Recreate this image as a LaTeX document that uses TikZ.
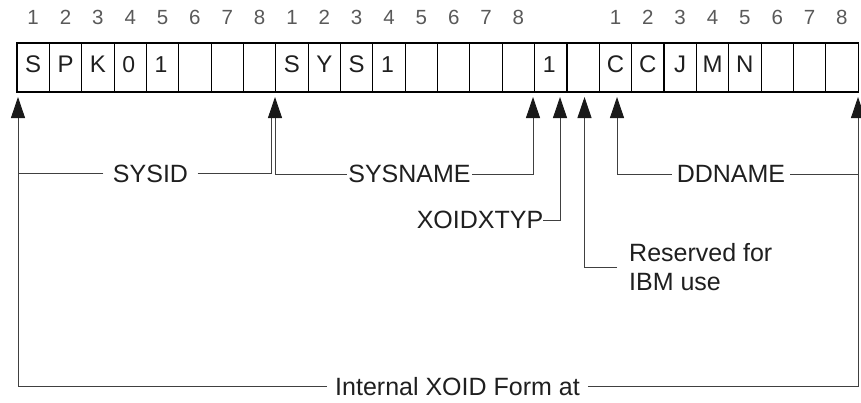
\documentclass[tikz,border=0pt]{standalone}
\usepackage{fontspec}
\setmainfont{Liberation Sans}
\usetikzlibrary{arrows.meta}
\begin{document}
\begin{tikzpicture}[x=1pt,y=-1pt,
  cell/.style={draw=black,line width=1.1pt,minimum width=32.35pt,minimum height=49pt,inner sep=0pt},
  lett/.style={anchor=base,font=\fontsize{24}{28}\selectfont,text=black!88},
  digit/.style={anchor=base,font=\fontsize{23}{27}\selectfont,text=black!88},
  colnum/.style={anchor=base,font=\fontsize{20.5}{24}\selectfont,text=black!65},
  lbl/.style={font=\fontsize{25}{29}\selectfont,text=black!88,inner ysep=0pt},
  conn/.style={draw=black!75,line width=0.9pt},
  arr/.style={conn,-{Triangle[length=21pt,width=14pt,color=black!90]}}
]
\useasboundingbox (0,0) rectangle (861,402);

% cells
\foreach \i in {0,...,25}
  \node[cell] (c\i) at ({17+32.35*(\i+0.5)},67.5) {};

% letters and digits in cells
\foreach \i/\t in {0/S,1/P,2/K,8/S,9/Y,10/S,18/C,19/C,20/J,21/M,22/N}
  \node[lett] (t\i) at ({17+32.35*(\i+0.5)},72) {\t};
\foreach \i/\t in {3/0,4/1,11/1,16/1}
  \node[digit] (t\i) at ({17+32.35*(\i+0.5)-1.5},72) {\t};

% column numbers
\foreach \g/\o in {0/0,1/8,2/18}
  \foreach \k in {1,...,8}
    \node[colnum] (n\g\k) at ({17+32.35*(\o+\k-0.5)},24) {\k};

% arrow targets
\coordinate (aL) at (18,97);
\coordinate (aS) at (275,97);
\coordinate (tS) at (271,112);
\coordinate (aN) at (533,97);
\coordinate (aX) at (560,97);
\coordinate (aRs) at (584.5,97);
\coordinate (aD) at (617,97);
\coordinate (aRt) at (858,97);

% labels
\node[lbl,inner xsep=9.5pt] (sysid) at (150.5,173.5) {SYSID};
\node[lbl,inner xsep=1.5pt] (sysname) at (409.5,174) {SYSNAME};
\node[lbl,inner xsep=0pt] (xoid) at (480,220) {XOIDXTYP};
\node[lbl,inner xsep=12pt,align=left,anchor=west] (res) at (617,267.5) {Reserved for\\IBM use};
\node[lbl,inner xsep=5pt] (dd) at (731,174) {DDNAME};
\node[lbl,inner xsep=8pt] (form) at (457.5,386.5) {Internal XOID Form at};

% connectors
\draw[conn] (sysid.west) -- (sysid.west -| aL);
\draw[conn] (sysid.east) -| (tS);
\draw[arr] (sysname.west) -| (aS);
\draw[arr] (sysname.east) -| (aN);
\draw[arr] (xoid.east) -| (aX);
\draw[arr] (res.west) -| (aRs);
\draw[arr] (dd.west) -| (aD);
\draw[conn] (dd.east) -- (dd.east -| aRt);
\draw[arr] (form.west) -| (aL);
\draw[arr] (form.east) -| (aRt);
\end{tikzpicture}
\end{document}
